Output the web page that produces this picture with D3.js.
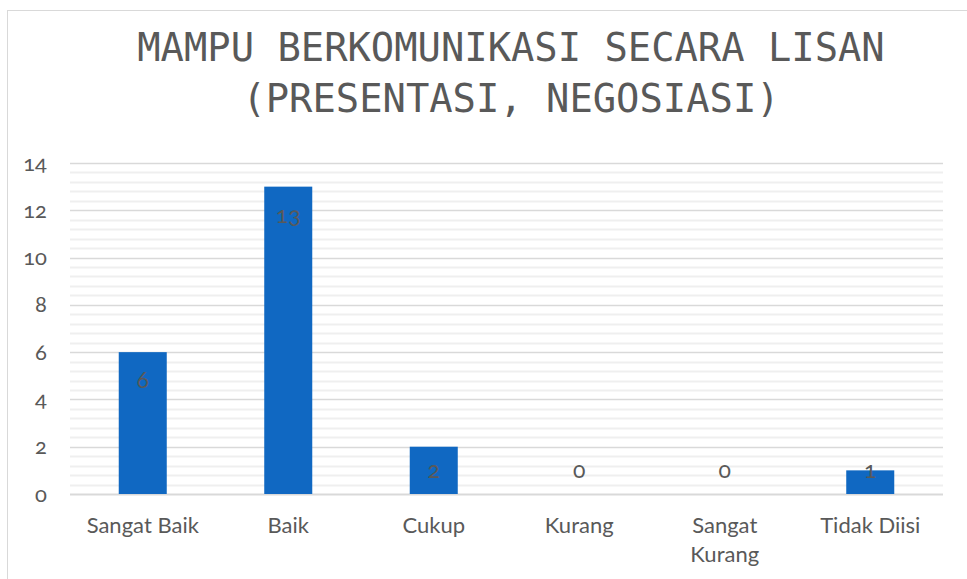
<!DOCTYPE html>
<html>
<head>
<meta charset="utf-8">
<script src="https://cdn.jsdelivr.net/npm/d3@7/dist/d3.min.js"></script>
<style>
  html, body { margin: 0; padding: 0; background: #fff; }
  svg { display: block; }
  .lbl { font-family: Lato, "Open Sans", sans-serif; fill: #595959; font-variant-numeric: oldstyle-nums; font-feature-settings: "onum" 1; }
</style>
</head>
<body>
<svg id="chart" width="967" height="579"></svg>
<script>
// Chart data
const categories = ["Sangat Baik", "Baik", "Cukup", "Kurang", "Sangat Kurang", "Tidak Diisi"];
const values = [6, 13, 2, 0, 0, 1];
const yTicks = [0, 2, 4, 6, 8, 10, 12, 14];
const titleLines = ["MAMPU BERKOMUNIKASI SECARA LISAN", "(PRESENTASI, NEGOSIASI)"];

const W = 967, H = 579;
const margin = { left: 70, right: 24, top: 163, bottom: 85 };
const svg = d3.select("#chart");

// Outer chart frame
svg.append("rect")
  .attr("x", 7.5).attr("y", 10.5)
  .attr("width", W + 20).attr("height", H + 20)
  .attr("fill", "#fff").attr("stroke", "#d9d9d9").attr("stroke-width", 1);

const x = d3.scaleBand()
  .domain(categories)
  .range([margin.left, W - margin.right])
  .paddingInner(0.67).paddingOuter(0.335);

const y = d3.scaleLinear().domain([0, 14]).range([H - margin.bottom, margin.top]);

// Minor gridlines (every 0.4)
const minor = d3.range(0, 14.001, 0.4).filter(v => Math.abs(v / 2 - Math.round(v / 2)) > 1e-6);
svg.append("g").selectAll("line").data(minor).join("line")
  .attr("x1", margin.left).attr("x2", W - margin.right)
  .attr("y1", d => Math.round(y(d)) + 0.5).attr("y2", d => Math.round(y(d)) + 0.5)
  .attr("stroke", "#efefef").attr("stroke-width", 2);

// Major gridlines
svg.append("g").selectAll("line").data(yTicks).join("line")
  .attr("x1", margin.left).attr("x2", W - margin.right)
  .attr("y1", d => Math.round(y(d)) + 0.5).attr("y2", d => Math.round(y(d)) + 0.5)
  .attr("stroke", "#d9d9d9").attr("stroke-width", d => d === 0 ? 2 : 1.5);

// Y axis labels
const yAxis = d3.axisLeft(y).tickValues(yTicks).tickSize(0).tickPadding(0);
const yg = svg.append("g").attr("transform", `translate(${margin.left - 23},0)`).call(yAxis);
yg.select(".domain").remove();
yg.selectAll("text").attr("class", "lbl").attr("font-size", 22).attr("fill", "#595959");

// Bars
svg.append("g").selectAll("rect").data(values).join("rect")
  .attr("x", (d, i) => x(categories[i]))
  .attr("y", d => y(d))
  .attr("width", x.bandwidth())
  .attr("height", d => y(0) - y(d))
  .attr("fill", "#1068c2");

// Data labels (inside end)
svg.append("g").selectAll("text").data(values).join("text")
  .attr("class", "lbl")
  .attr("x", (d, i) => x(categories[i]) + x.bandwidth() / 2)
  .attr("y", d => Math.min(y(d) + 29, y(0) - 23))
  .attr("dy", "0.3em")
  .attr("text-anchor", "middle")
  .attr("font-size", 23)
  .attr("fill", "#404040")
  .text(d => d);

// X axis labels (with wrapping)
const wrap = { "Sangat Kurang": ["Sangat", "Kurang"] };
const xg = svg.append("g");
categories.forEach(c => {
  const lines = wrap[c] || [c];
  const t = xg.append("text").attr("class", "lbl")
    .attr("x", x(c) + x.bandwidth() / 2).attr("y", 533)
    .attr("text-anchor", "middle").attr("font-size", 22);
  lines.forEach((ln, i) => {
    t.append("tspan").attr("x", x(c) + x.bandwidth() / 2).attr("dy", i === 0 ? 0 : 29).text(ln);
  });
});

// Title
const title = svg.append("text")
  .attr("x", 511).attr("y", 61)
  .attr("text-anchor", "middle")
  .attr("font-family", "'DejaVu Sans Mono', monospace")
  .attr("font-size", 38.8)
  .attr("fill", "#595959");
titleLines.forEach((ln, i) => {
  title.append("tspan").attr("x", 511).attr("dy", i === 0 ? 0 : 51).text(ln);
});
</script>
</body>
</html>
